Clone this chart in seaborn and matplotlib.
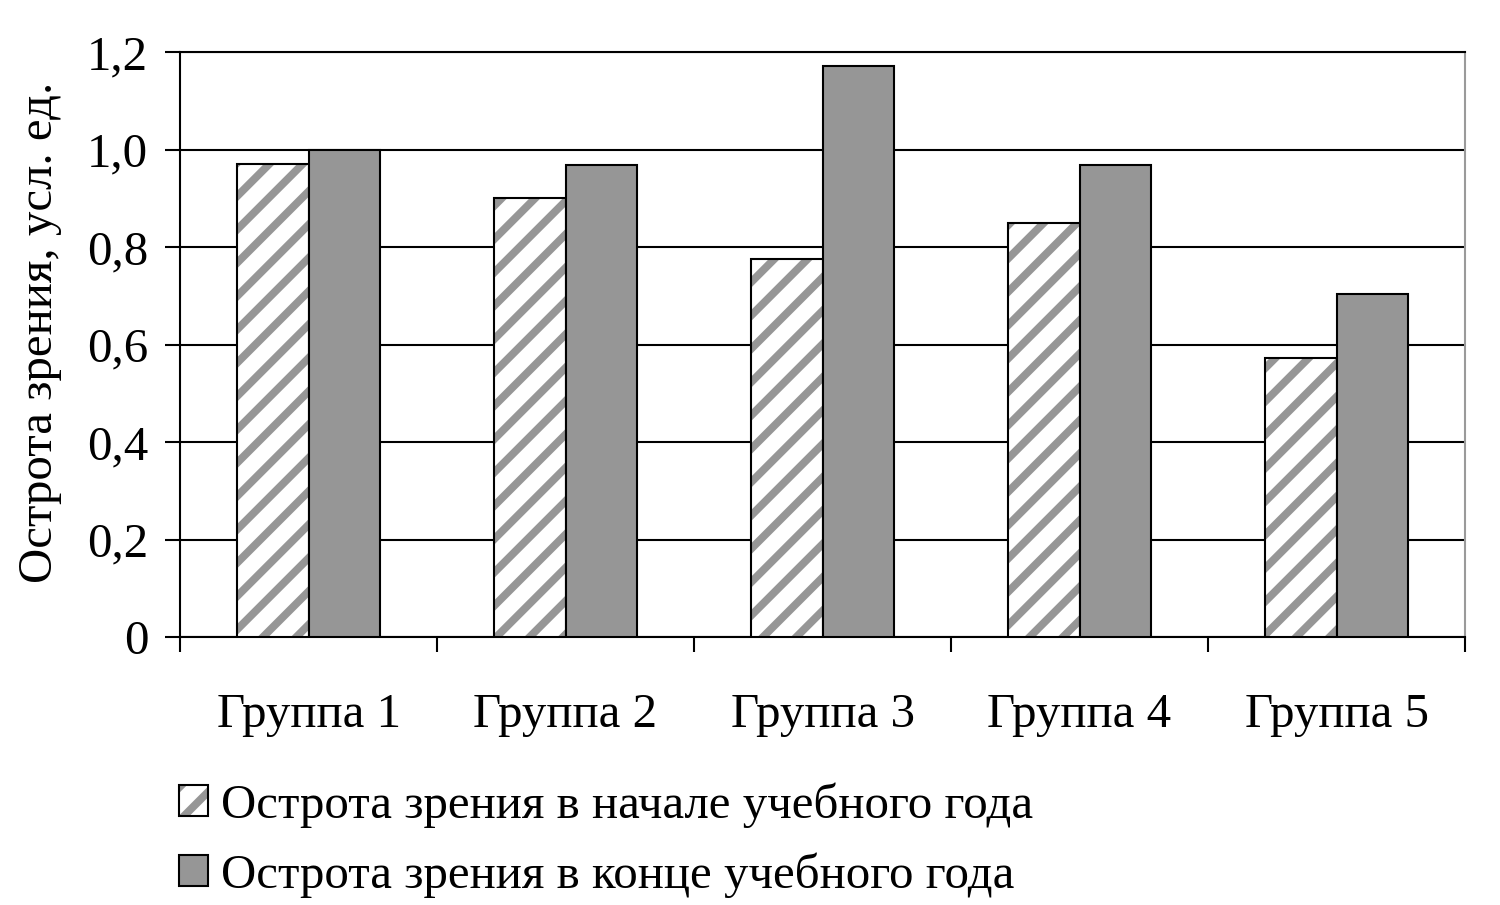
import numpy as np
import pandas as pd
import matplotlib
matplotlib.use('Agg')
import matplotlib.pyplot as plt
import matplotlib.colors as mcolors
import seaborn as sns

# Datos
grupos = ['Группа 1', 'Группа 2', 'Группа 3', 'Группа 4', 'Группа 5']
inicio = [0.97, 0.90, 0.775, 0.85, 0.572]
fin = [1.0, 0.968, 1.171, 0.968, 0.704]
serie_ini = 'Острота зрения в начале учебного года'
serie_fin = 'Острота зрения в конце учебного года'

df = pd.DataFrame({'grupo': grupos * 2,
                   'valor': inicio + fin,
                   'serie': [serie_ini] * 5 + [serie_fin] * 5})

sns.set_style('white')
plt.rcParams['font.family'] = ['Liberation Serif', 'DejaVu Serif']
plt.rcParams['hatch.linewidth'] = 2.8
plt.rcParams['text.color'] = 'black'
plt.rcParams['axes.labelcolor'] = 'black'
plt.rcParams['xtick.color'] = 'black'
plt.rcParams['ytick.color'] = 'black'

gris = '#969696'
fs = 17.6

fig, ax = plt.subplots(figsize=(7.5, 4.525), dpi=200)
fig.subplots_adjust(left=0.12, right=0.9767, bottom=0.2961, top=0.9425)

sns.barplot(data=df, x='grupo', y='valor', hue='serie', palette=['white', gris],
            width=0.556, gap=0, edgecolor='black', linewidth=0.75,
            legend=False, ax=ax, zorder=3)

# rayado de la primera serie
for p in ax.containers[0]:
    p.set_hatch('//')
    if hasattr(p, 'set_hatchcolor'):
        p.set_hatchcolor(gris)
    else:
        p._hatch_color = mcolors.to_rgba(gris)

ax.set_ylim(0, 1.2)
ax.set_xlim(-0.5, 4.5)
ax.set_yticks(np.arange(0, 1.21, 0.2))
ax.set_yticklabels(['0'] + [('%.1f' % v).replace('.', ',') for v in np.arange(0.2, 1.21, 0.2)])
ax.yaxis.grid(True, color='black', linewidth=0.75)
ax.set_axisbelow(True)

ax.set_xticks(np.arange(-0.5, 4.6, 1))
ax.set_xticklabels([])
ax.set_xticks(range(len(grupos)), minor=True)
ax.set_xticklabels(grupos, minor=True)
ax.tick_params(axis='x', which='major', direction='out', length=5.4, width=0.75, color='black', bottom=True)
ax.tick_params(axis='x', which='minor', length=0, pad=20, labelsize=fs)
ax.tick_params(axis='y', direction='out', length=5.4, width=0.75, color='black', left=True, pad=6, labelsize=fs)

for s in ['left', 'bottom', 'top']:
    ax.spines[s].set_color('black')
    ax.spines[s].set_linewidth(0.75)
ax.spines['right'].set_color('#9a9a9a')
ax.spines['right'].set_linewidth(0.75)

ax.set_xlabel('')
ax.set_ylabel('Острота зрения, усл. ед.', fontsize=fs, labelpad=9)
ax.yaxis.label.set_y(0.52)

handles = [ax.containers[0][0], ax.containers[1][0]]
fig.legend(handles, [serie_ini, serie_fin], loc='upper left',
           bbox_to_anchor=(0.106, 0.157), frameon=False, fontsize=fs,
           handlelength=0.6, handleheight=0.6, handletextpad=0.27,
           labelspacing=0.5, borderaxespad=0)

plt.savefig('out.png', dpi=200)
